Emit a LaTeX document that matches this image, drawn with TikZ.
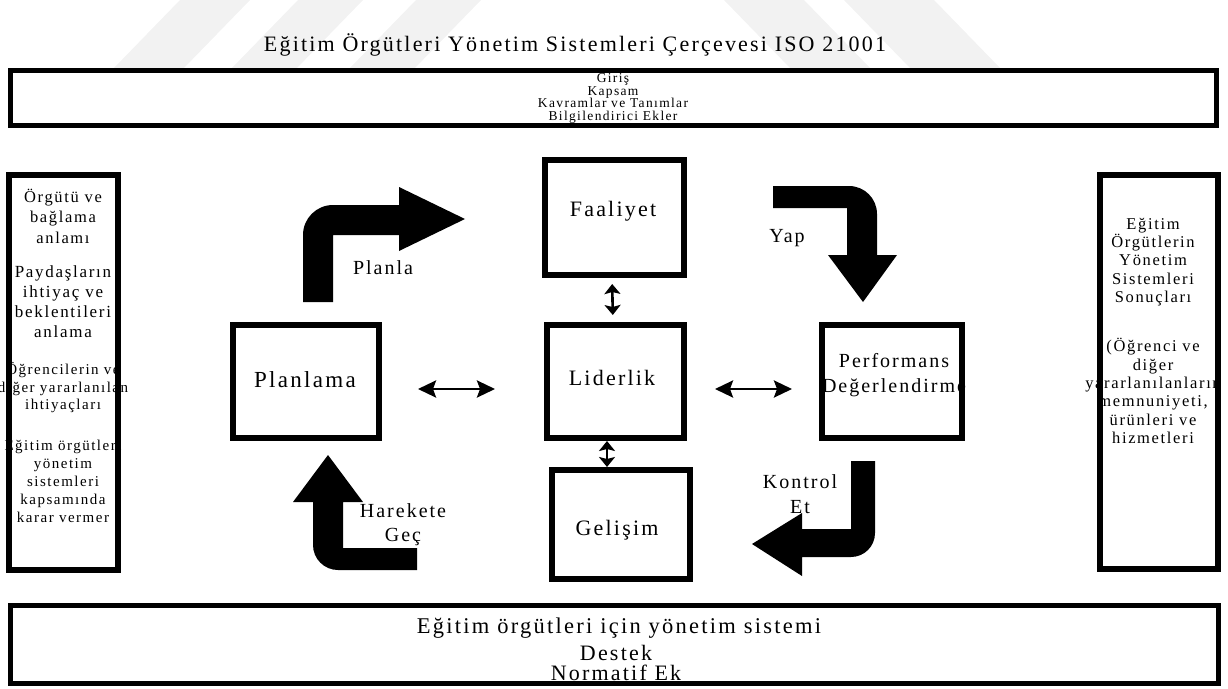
\documentclass[tikz,border=0pt]{standalone}
\usepackage{fontspec}
\setmainfont{Liberation Serif}[LetterSpace=10]
\usetikzlibrary{arrows.meta}
\newcommand\fsz[2]{\fontsize{#1}{#2}\selectfont}
\begin{document}
\begin{tikzpicture}[x=1pt,y=-1pt,
  frame/.style={draw=black,line width=5.5pt,inner sep=0pt,outer sep=0pt},
  txt/.style={inner sep=0pt,outer sep=0pt,align=center},
  dbl/.style={line width=2.8pt,
    {Stealth[length=18pt,width=17pt,inset=3pt]}-{Stealth[length=18pt,width=17pt,inset=3pt]}},
  vdbl/.style={line width=2.6pt,
    {Stealth[length=10pt,width=16pt,inset=2pt]}-{Stealth[length=10pt,width=16pt,inset=2pt]}},
  block/.style={fill=black},
  wmark/.style={fill=black!5}
]
\useasboundingbox (0,0) rectangle (1228,688);

% faint background bands at the top edge
\fill[wmark] (114,68) -- (184,68) -- (250,0) -- (180,0) -- cycle;
\fill[wmark] (232,68) -- (297,68) -- (363,0) -- (298,0) -- cycle;
\fill[wmark] (350,68) -- (415,68) -- (481,0) -- (416,0) -- cycle;
\fill[wmark] (790,68) -- (870,68) -- (804,0) -- (724,0) -- cycle;
\fill[wmark] (910,68) -- (1000,68) -- (934,0) -- (844,0) -- cycle;

% title
\node[txt,font=\fsz{22}{26}] (title) at (575,45)
  {Eğitim Örgütleri Yönetim Sistemleri Çerçevesi ISO 21001};

% texts (set before the frames so the frames lie on top)
\node[txt,font=\fsz{13.5}{12.4}] (toptext) at (613,98.5)
  {Giriş\\Kapsam\\Kavramlar ve Tanımlar\\Bilgilendirici Ekler};
\node[txt,font=\fsz{22.5}{26}] (bot1) at (619,628) {Eğitim örgütleri için yönetim sistemi};
\node[txt,font=\fsz{22}{20}] (bot2) at (616,663) {Destek\\Normatif Ek};

\node[txt,font=\fsz{16.5}{20.5}] (l1) at (63,216) {Örgütü ve\\bağlama\\anlamı};
\node[txt,font=\fsz{17}{20}] (l2) at (63,302) {Paydaşların\\ihtiyaç ve\\beklentileri\\anlama};
\node[txt,font=\fsz{15}{17.5}] (l3) at (63,388) {Öğrencilerin ve\\diğer yararlanılan\\ihtiyaçları};
\node[txt,font=\fsz{15}{18}] (l4) at (63,481) {Eğitim örgütleri\\yönetim\\sistemleri\\kapsamında\\karar vermer};

\node[txt,font=\fsz{16.5}{18.3}] (r1) at (1153,262) {Eğitim\\Örgütlerin\\Yönetim\\Sistemleri\\Sonuçları};
\node[txt,font=\fsz{16.5}{18.4}] (r2) at (1153,391) {(Öğrenci ve\\diğer\\yararlanılanların\\memnuniyeti,\\ürünleri ve\\hizmetleri};

\node[txt,font=\fsz{22}{26}] (tfa) at (613,211) {Faaliyet};
\node[txt,font=\fsz{22}{26}] (tli) at (612,378) {Liderlik};
\node[txt,font=\fsz{22}{26}] (tge) at (617,530) {Gelişim};
\node[txt,font=\fsz{23}{26}] (tpl) at (305,380) {Planlama};
\node[txt,font=\fsz{20}{25}] (tpe) at (894,375) {Performans\\Değerlendirme};

% frames
\node[frame,line width=5pt,minimum width=1206pt,minimum height=55pt] (top) at (613.5,98) {};
\node[frame,line width=5pt,minimum width=1208pt,minimum height=78pt] (bottom) at (614.5,644.5) {};
\node[frame,minimum width=109pt,minimum height=395pt] (lb) at (63.5,372.5) {};
\node[frame,minimum width=118pt,minimum height=394pt] (rb) at (1159,372) {};
\node[frame,minimum width=139pt,minimum height=115pt] (fa) at (614.5,217.5) {};
\node[frame,minimum width=137pt,minimum height=113pt] (li) at (615.5,381.5) {};
\node[frame,minimum width=138pt,minimum height=109pt] (ge) at (621,524.5) {};
\node[frame,minimum width=146pt,minimum height=113pt] (pl) at (306,381.5) {};
\node[frame,minimum width=140pt,minimum height=113pt] (pe) at (892,381.5) {};

% two-headed links around the centre box
\draw[dbl,shorten <=39pt,shorten >=52pt] ([yshift=-7.5pt]pl.east) -- ([yshift=-7.5pt]li.west);
\draw[dbl,shorten <=31pt,shorten >=30pt] ([yshift=-7.5pt]li.east) -- ([yshift=-7.5pt]pe.west);
\draw[vdbl,shorten <=9pt,shorten >=10pt] ([xshift=-2.5pt]fa.south) -- ([xshift=-2.5pt]li.north);
\draw[vdbl,shorten <=3pt,shorten >=3pt] ([xshift=-8.5pt]li.south) -- ([xshift=-8.5pt]li.south |- ge.north);

% bent block arrows of the cycle
\fill[block] (303,302) -- (303,235) .. controls (303,218.4) and (316.4,205) .. (333,205)
  -- (399,205) -- (399,187) -- (465,219) -- (399,251) -- (399,235) -- (333,235) -- (333,302) -- cycle;
\fill[block] (773,186) -- (849,186) .. controls (864.5,186) and (877,198.5) .. (877,214)
  -- (877,255) -- (897,255) -- (863,302) -- (828,255) -- (847,255) -- (847,208) -- (773,208) -- cycle;
\fill[block] (851,461) -- (875,461) -- (875,533) .. controls (875,546.3) and (864.3,557) .. (851,557)
  -- (802,557) -- (802,576) -- (752,544) -- (802,513) -- (802,529) -- (851,529) -- cycle;
\fill[block] (313,502) -- (313,545) .. controls (313,558.8) and (324.2,570) .. (338,570)
  -- (417,570) -- (417,548) -- (343,548) -- (343,502) -- (363,502) -- (328,455) -- (293,502) -- cycle;

% cycle labels
\node[txt,font=\fsz{20}{24}] (lplan) at (383,268) {Planla};
\node[txt,font=\fsz{20}{24}] (lyap) at (787,238) {Yap};
\node[txt,font=\fsz{20}{25}] (lkon) at (800,494) {Kontrol\\Et};
\node[txt,font=\fsz{20}{24}] (lhar) at (403,525) {Harekete\\Geç};
\end{tikzpicture}
\end{document}
